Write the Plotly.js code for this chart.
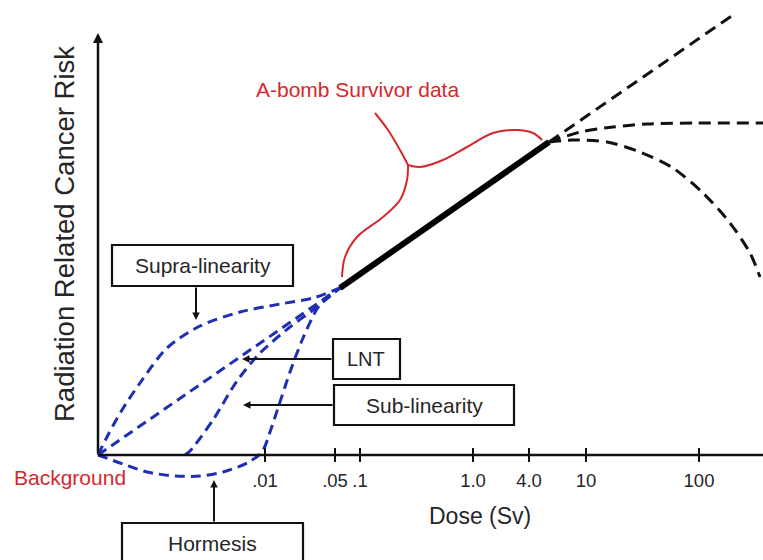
<!DOCTYPE html>
<html>
<head>
<meta charset="utf-8">
<script src="https://cdn.plot.ly/plotly-3.0.1.min.js"></script>
<style>html,body{margin:0;padding:0;background:#fff;}#chart{width:763px;height:560px;}</style>
</head>
<body>
<div id="chart"></div>
<script>
// Schematic units: x = position along dose axis, y = relative risk
const tickLabels = ['.01', '.05', '.1', '1.0', '4.0', '10', '100'];
const tickPos = [167, 237, 262, 375, 431, 488, 601];

const supraX = [0, 10, 24, 42, 69, 102, 142, 182, 215, 242];
const supraY = [0, 20, 45, 72, 107, 129, 143, 151, 157, 167];

const lntX = [0, 242];
const lntY = [0, 167];

const subX = [87, 92, 115, 139, 162, 192, 215, 242];
const subY = [0, 4, 35, 74, 102, 128, 145, 167];

const hormX = [0, 25, 49, 77, 102, 125, 149, 164, 172, 180, 192, 205, 219, 230, 242];
const hormY = [0, -9, -17, -21, -21, -17, -8, 3, 23, 47, 83, 117, 146, 159, 167];

const abombX = [242, 451];
const abombY = [167, 313];

const upX = [451, 635];
const upY = [313, 440];
const plateauX = [451, 482, 515, 549, 599, 680];
const plateauY = [313, 323, 328, 331, 332, 332];
const downX = [451, 475, 509, 542, 575, 605, 632, 652, 662];
const downY = [313, 315, 313, 303, 287, 262, 232, 202, 178];

const braceX = [244, 247, 259, 285, 302, 309, 310, null, 310, 302, 290, 277, null, 310, 322, 345, 369, 395, 419, 435, 444];
const braceY = [178, 198, 218, 238, 255, 275, 290, null, 290, 305, 325, 342, null, 290, 288, 295, 308, 322, 325, 322, 315];

const BLUE = '#1e2fb4';
const RED = '#d5282c';
const FONT = 'Liberation Sans, Arial, Helvetica, sans-serif';
const TXT = '#262626';

function dashed(x, y, color, dash) {
  return {x: x, y: y, mode: 'lines', type: 'scatter', hoverinfo: 'skip',
    line: {color: color, width: 3, dash: dash, shape: 'spline', smoothing: 0.8}};
}

const traces = [
  dashed(supraX, supraY, BLUE, '10px,6px'),
  dashed(lntX, lntY, BLUE, '10px,6px'),
  dashed(subX, subY, BLUE, '10px,6px'),
  dashed(hormX, hormY, BLUE, '10px,6px'),
  dashed(upX, upY, '#111', '12px,7px'),
  dashed(plateauX, plateauY, '#111', '12px,7px'),
  dashed(downX, downY, '#111', '12px,7px'),
  {x: abombX, y: abombY, mode: 'lines', type: 'scatter', hoverinfo: 'skip',
   line: {color: '#000', width: 6}},
  {x: braceX, y: braceY, mode: 'lines', type: 'scatter', hoverinfo: 'skip', connectgaps: false,
   line: {color: RED, width: 2, shape: 'spline', smoothing: 1}},
  {x: tickPos, y: tickPos.map(() => 0), mode: 'markers', type: 'scatter', hoverinfo: 'skip',
   marker: {symbol: 'line-ns-open', size: 10, color: '#111', line: {color: '#111', width: 2}}}
];

function box(x0, x1, y0, y1) {
  return {type: 'rect', xref: 'x', yref: 'y', x0: x0, x1: x1, y0: y0, y1: y1,
    line: {color: '#111', width: 2.2}, fillcolor: 'rgba(255,255,255,0)', layer: 'above'};
}
function label(x, y, text, size, color) {
  return {x: x, y: y, xref: 'x', yref: 'y', text: text, showarrow: false,
    font: {family: FONT, size: size, color: color || TXT}};
}
function pointer(x, y, ax, ay) {
  return {x: x, y: y, ax: ax, ay: ay, xref: 'x', yref: 'y', axref: 'x', ayref: 'y',
    text: '', showarrow: true, arrowhead: 2, arrowsize: 0.75, arrowwidth: 2, arrowcolor: '#111', standoff: 0};
}

const layout = {
  width: 763, height: 560,
  margin: {l: 0, r: 0, t: 0, b: 0},
  paper_bgcolor: '#fff', plot_bgcolor: '#fff',
  showlegend: false, hovermode: false,
  xaxis: {range: [-98, 665], showgrid: false, zeroline: false, showline: false,
    anchor: 'free', position: 105 / 560,
    tickmode: 'array', tickvals: tickPos, ticktext: tickLabels, ticks: '',
    ticklabelstandoff: 12,
    tickfont: {family: FONT, size: 18.5, color: TXT}},
  yaxis: {range: [-105, 455], showgrid: false, zeroline: false, showline: false,
    showticklabels: false, ticks: ''},
  shapes: [
    {type: 'line', xref: 'x', yref: 'y', x0: 0, x1: 665, y0: 0, y1: 0,
     line: {color: '#111', width: 2.5}, layer: 'above'},
    box(14, 195, 169, 210),
    box(235, 302, 76, 116),
    box(236, 416, 30, 70),
    box(24, 205, -68, -112)
  ],
  annotations: [
    {x: 0, y: 422, ax: 0, ay: 0, xref: 'x', yref: 'y', axref: 'x', ayref: 'y',
     text: '', showarrow: true, arrowhead: 2, arrowsize: 0.8, arrowwidth: 2.5, arrowcolor: '#111', standoff: 0},
    label(105, 190, 'Supra-linearity', 21),
    label(268, 96, 'LNT', 20),
    label(326, 50, 'Sub-linearity', 21),
    label(114, -88, 'Hormesis', 21),
    pointer(98, 135, 98, 169),
    pointer(144, 96, 235, 96),
    pointer(145, 50, 236, 50),
    pointer(116, -25, 116, -68),
    label(259, 366, 'A-bomb Survivor data', 21, RED),
    Object.assign(label(30, -22, 'Background', 21, RED), {xanchor: 'right'}),
    label(382, -61, 'Dose (Sv)', 23),
    Object.assign(label(-34, 221, 'Radiation Related Cancer Risk', 27.5), {textangle: -90})
  ]
};

Plotly.newPlot('chart', traces, layout, {displayModeBar: false, staticPlot: true});
</script>
</body>
</html>
